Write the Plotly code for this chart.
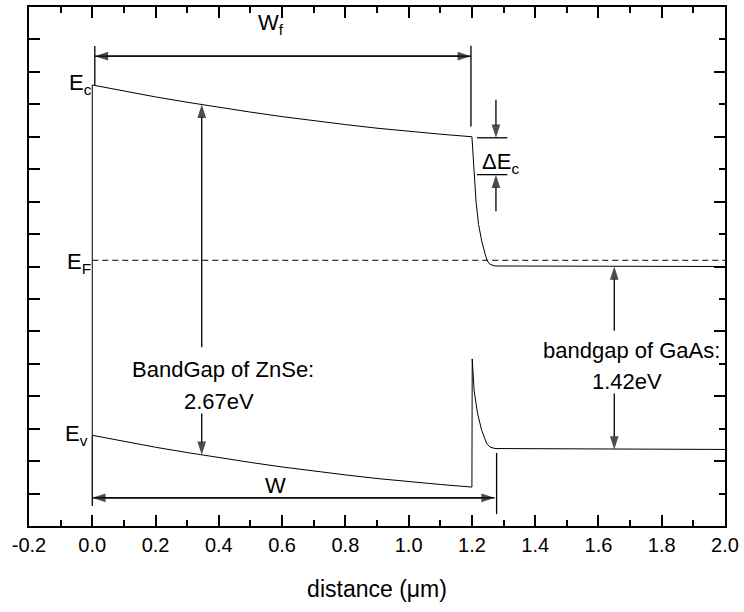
import plotly.graph_objects as go

# ---------------- data ----------------
# ZnSe side (depleted region), distance in um, energy in eV (arbitrary zero)
x_znse = [0.0, 0.1, 0.2, 0.3, 0.4, 0.5, 0.6, 0.7, 0.8, 0.9, 1.0, 1.1, 1.2]
ec_znse = [1.399, 1.352, 1.307, 1.266, 1.227, 1.190, 1.155, 1.123, 1.094,
           1.066, 1.042, 1.020, 1.000]
ev_znse = [-1.301, -1.348, -1.393, -1.434, -1.473, -1.510, -1.545, -1.577,
           -1.606, -1.634, -1.658, -1.680, -1.700]

# GaAs side (after interface at 1.2 um)
x_gaas_c = [1.200, 1.203, 1.207, 1.213, 1.221, 1.231, 1.242, 1.249, 1.257, 1.273, 2.0]
ec_gaas = [1.000, 0.900, 0.759, 0.503, 0.324, 0.196, 0.094, 0.042, 0.017, 0.004, 0.0]
x_gaas_v = [1.200, 1.201, 1.207, 1.218, 1.231, 1.247, 1.257, 1.273, 2.0]
ev_gaas = [-1.700, -0.712, -0.956, -1.135, -1.263, -1.365, -1.391, -1.403, -1.410]

# Fermi level
x_ef = [0.0, 2.0]
e_f = [0.048, 0.048]

# x tick labels
x_tickvals = [-0.2, 0.0, 0.2, 0.4, 0.6, 0.8, 1.0, 1.2, 1.4, 1.6, 1.8, 2.0]
x_ticktext = ["-0.2", "0.0", "0.2", "0.4", "0.6", "0.8", "1.0", "1.2",
              "1.4", "1.6", "1.8", "2.0"]

# annotation geometry (arrows / dimension bars)
WF_Y, WF_X0, WF_X1 = 1.621, 0.008, 1.197
W_Y, W_X0, W_X1 = -1.783, 0.0, 1.272
W_BAR_X = 1.278
ZNSE_ARROW_X = 0.346
GAAS_ARROW_X = 1.650
DEC_X0, DEC_X1, DEC_ARROW_X = 1.216, 1.312, 1.276
DEC_TOP, DEC_BOT = 0.992, 0.708

BLACK = "black"
FONT = "Liberation Sans, Arial, sans-serif"

fig = go.Figure()


def line(x, y, width=1.0, dash=None):
    fig.add_trace(go.Scatter(x=x, y=y, mode="lines", hoverinfo="skip",
                             line=dict(color=BLACK, width=width, dash=dash),
                             showlegend=False))


def arrow(x, y, heads):
    """polyline with 'arrow' markers (pointing along travel) where heads[i] is True"""
    fig.add_trace(go.Scatter(
        x=x, y=y, mode="lines+markers", hoverinfo="skip", showlegend=False,
        line=dict(color=BLACK, width=1.3),
        marker=dict(symbol=["arrow" if h else "circle" for h in heads],
                    size=[14 if h else 0 for h in heads],
                    angleref="previous", color=BLACK,
                    line=dict(width=0))))


# band edges
line(x_znse, ec_znse)
line(x_znse, ev_znse)
line(x_gaas_c, ec_gaas)
line(x_gaas_v, ev_gaas)
line([x_znse[0], x_znse[0]], [ec_znse[0], ev_znse[0]])
line(x_ef, e_f, dash="6px,4px")

# W_f dimension
line([WF_X0, WF_X0], [1.70, ec_znse[0]], width=1.3)
line([WF_X1, WF_X1], [1.701, 1.079], width=1.3)
arrow([WF_X0, WF_X1, WF_X0], [WF_Y, WF_Y, WF_Y], [False, True, True])

# W dimension
line([W_X0, W_X0], [ev_znse[0], -1.846], width=1.3)
line([W_BAR_X, W_BAR_X], [-1.437, -1.908], width=1.3)
arrow([W_X0, W_X1, W_X0], [W_Y, W_Y, W_Y], [False, True, True])

# ZnSe band gap arrows
arrow([ZNSE_ARROW_X, ZNSE_ARROW_X], [-0.623, 1.248], [False, True])
arrow([ZNSE_ARROW_X, ZNSE_ARROW_X], [-1.132, -1.452], [False, True])

# GaAs band gap arrows
arrow([GAAS_ARROW_X, GAAS_ARROW_X], [-0.495, ec_gaas[-1]], [False, True])
arrow([GAAS_ARROW_X, GAAS_ARROW_X], [-0.979, ev_gaas[-1]], [False, True])

# Delta E_c
line([DEC_X0, DEC_X1], [DEC_TOP, DEC_TOP], width=1.3)
line([DEC_X0, DEC_X1], [DEC_BOT, DEC_BOT], width=1.3)
arrow([DEC_ARROW_X, DEC_ARROW_X], [1.286, DEC_TOP], [False, True])
arrow([DEC_ARROW_X, DEC_ARROW_X], [0.426, DEC_BOT], [False, True])

# dummy trace for right axis
fig.add_trace(go.Scatter(x=[None], y=[None], yaxis="y2", showlegend=False))

texts = [
    ("E<sub>c</sub>", -0.080, 1.405, "left"),
    ("E<sub>F</sub>", -0.086, 0.030, "left"),
    ("E<sub>v</sub>", -0.092, -1.297, "left"),
    ("W<sub>f</sub>", 0.566, 1.870, "center"),
    ("W", 0.580, -1.689, "center"),
    ("ΔE<sub>c</sub>", 1.225, 0.795, "left"),
    ("BandGap of ZnSe:", 0.412, -0.795, "center"),
    ("2.67eV", 0.400, -1.040, "center"),
    ("bandgap of GaAs:", 1.705, -0.649, "center"),
    ("1.42eV", 1.690, -0.887, "center"),
]
for t, x, y, xa in texts:
    fig.add_annotation(text=t, x=x, y=y, xref="x", yref="y", showarrow=False,
                       xanchor=xa, yanchor="middle",
                       font=dict(family=FONT, size=22, color=BLACK))

axis_common = dict(showgrid=False, zeroline=False, showline=True,
                   linecolor=BLACK, linewidth=2, ticks="inside",
                   tickcolor=BLACK, tickwidth=2)

fig.update_layout(
    width=744, height=612,
    margin=dict(l=29, r=14, t=5, b=86),
    paper_bgcolor="white", plot_bgcolor="white",
    font=dict(family=FONT, color=BLACK),
    xaxis=dict(range=[-0.2, 2.0], tickvals=x_tickvals, ticktext=x_ticktext,
               ticklen=11, mirror="ticks",
               minor=dict(dtick=0.1, tick0=0, ticklen=6, ticks="inside",
                          tickcolor=BLACK, tickwidth=2),
               tickfont=dict(size=20, family=FONT, color=BLACK),
               title=dict(text="distance (μm)",
                          font=dict(size=23, family=FONT, color=BLACK),
                          standoff=26),
               **axis_common),
    yaxis=dict(range=[-2.0, 2.0], dtick=0.25, tick0=0, ticklen=11,
               showticklabels=False, **axis_common),
    yaxis2=dict(range=[-2.0, 2.0], overlaying="y", side="right",
                dtick=0.5, tick0=0, ticklen=11, showticklabels=False,
                minor=dict(dtick=0.25, ticklen=6, ticks="inside",
                           tickcolor=BLACK, tickwidth=2),
                **axis_common),
)

fig.write_html("out.html",
               config={"displayModeBar": False},
               post_script="document.body.style.margin='0px';")
